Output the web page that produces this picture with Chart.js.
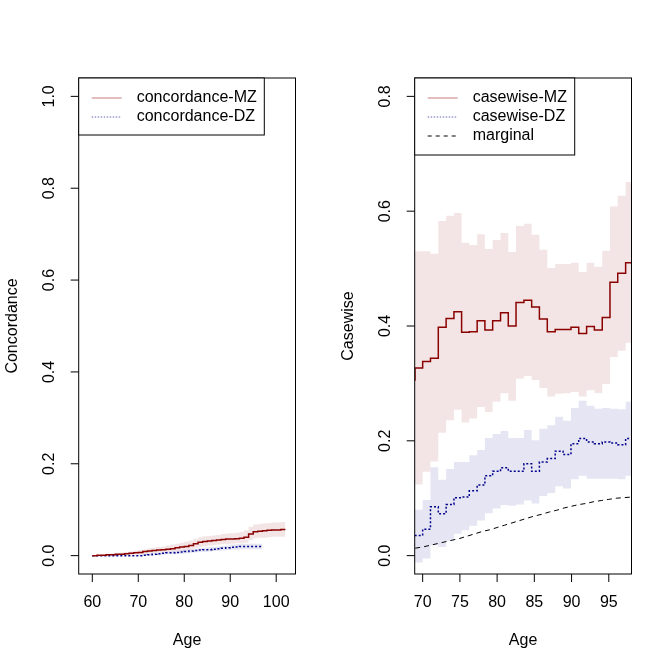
<!DOCTYPE html>
<html lang="en">
<head>
  <meta charset="UTF-8" />
  <title>Concordance and casewise by age</title>
  <script src="https://cdn.jsdelivr.net/npm/chart.js@4.4.1/dist/chart.umd.min.js"></script>
  <style>
    body { margin: 0; background: #fff; }
    .panel { position: absolute; top: 0; width: 336px; height: 672px; }
  </style>
</head>
<body>
  <div class="panel" style="left:0"><canvas id="leftChart" width="336" height="672"></canvas></div>
  <div class="panel" style="left:336px"><canvas id="rightChart" width="336" height="672"></canvas></div>

  <script>
    // ---- left panel: concordance ----
    const concAgesMZ = [60,61,62,63,64,65,66,67,68,69,70,71,72,73,74,75,76,77,78,79,80,
      81,82,83,84,85,86,87,88,89,90,91,92,93,94,95,96,97,98,99,100,101,102];
    const concMZ = [0.000,0.001,0.001,0.002,0.002,0.003,0.003,0.004,0.005,0.006,0.007,
      0.009,0.010,0.011,0.012,0.013,0.014,0.015,0.017,0.019,0.020,0.022,0.026,0.029,
      0.031,0.032,0.033,0.034,0.035,0.036,0.036,0.037,0.038,0.040,0.047,0.052,0.053,
      0.054,0.055,0.056,0.056,0.057,0.057];
    const concMZUpper = [0.000,0.002,0.003,0.004,0.005,0.006,0.007,0.008,0.009,0.011,
      0.012,0.014,0.016,0.017,0.019,0.020,0.022,0.024,0.026,0.028,0.030,0.033,0.037,
      0.040,0.042,0.043,0.044,0.045,0.047,0.048,0.049,0.050,0.052,0.055,0.063,0.068,
      0.069,0.070,0.071,0.072,0.072,0.073,0.074];
    const concMZLower = [0.000,0.000,0.000,0.001,0.001,0.001,0.001,0.002,0.002,0.003,
      0.003,0.004,0.005,0.006,0.007,0.008,0.008,0.009,0.010,0.011,0.012,0.013,0.016,
      0.019,0.021,0.022,0.023,0.024,0.025,0.025,0.026,0.027,0.027,0.028,0.034,0.038,
      0.039,0.039,0.040,0.041,0.041,0.041,0.041];

    const concAgesDZ = [60,61,62,63,64,65,66,67,68,69,70,71,72,73,74,75,76,77,78,79,80,
      81,82,83,84,85,86,87,88,89,90,91,92,93,94,95,96,97];
    const concDZ = [0,0,0,0,0,0,0,0,0,0,0,0.001,0.002,0.003,0.004,0.005,0.006,0.006,
      0.007,0.008,0.009,0.010,0.011,0.012,0.013,0.013,0.014,0.015,0.016,0.017,0.018,
      0.019,0.020,0.020,0.020,0.020,0.020,0.020];
    const concDZUpper = [0,0,0.001,0.001,0.001,0.001,0.001,0.002,0.002,0.002,0.003,
      0.004,0.005,0.006,0.007,0.008,0.009,0.010,0.011,0.012,0.013,0.014,0.015,0.016,
      0.017,0.018,0.019,0.020,0.021,0.022,0.024,0.025,0.026,0.026,0.026,0.026,0.026,0.026];
    const concDZLower = [0,0,0,0,0,0,0,0,0,0,0,0,0,0.001,0.001,0.002,0.003,0.003,0.004,
      0.004,0.005,0.006,0.007,0.008,0.008,0.009,0.010,0.010,0.011,0.012,0.013,0.013,
      0.014,0.014,0.014,0.014,0.014,0.014];

    const concXTicks = [60, 70, 80, 90, 100];
    const concYTicks = [0, 0.2, 0.4, 0.6, 0.8, 1.0];

    // ---- right panel: casewise ----
    const caseAges = [68.93,68.97,70.0,71.05,72.1,73.15,74.2,75.23,76.26,77.32,78.36,
      79.4,80.46,81.5,82.54,83.6,84.64,85.68,86.74,87.8,88.86,89.92,90.96,92.02,93.06,
      94.12,95.16,96.2,97.26,98.1];
    const caseMZ = [0.306,0.327,0.338,0.344,0.398,0.413,0.425,0.389,0.390,0.409,0.393,
      0.409,0.423,0.400,0.441,0.445,0.433,0.412,0.390,0.394,0.394,0.398,0.387,0.399,
      0.393,0.415,0.476,0.492,0.510,0.510];
    const caseMZUpper = [0.530,0.530,0.530,0.526,0.583,0.592,0.597,0.545,0.541,0.560,
      0.534,0.550,0.562,0.529,0.574,0.578,0.559,0.533,0.501,0.508,0.508,0.510,0.494,
      0.510,0.503,0.531,0.608,0.627,0.651,0.651];
    const caseMZLower = [0.124,0.124,0.146,0.164,0.214,0.236,0.254,0.232,0.239,0.259,
      0.250,0.268,0.283,0.270,0.308,0.313,0.306,0.292,0.277,0.282,0.283,0.285,0.277,
      0.288,0.283,0.299,0.346,0.357,0.371,0.371];
    const caseDZ = [0.035,0.035,0.046,0.085,0.073,0.089,0.101,0.102,0.113,0.123,0.139,
      0.147,0.153,0.147,0.147,0.160,0.147,0.163,0.169,0.182,0.176,0.195,0.204,0.198,
      0.195,0.198,0.196,0.193,0.204,0.204];
    const caseDZUpper = [0.080,0.080,0.097,0.154,0.132,0.151,0.163,0.163,0.175,0.184,
      0.205,0.212,0.217,0.205,0.205,0.219,0.201,0.221,0.227,0.242,0.235,0.257,0.270,
      0.261,0.256,0.257,0.256,0.255,0.268,0.268];
    const caseDZLower = [-0.012,-0.012,-0.005,0.018,0.015,0.026,0.038,0.044,0.052,0.061,
      0.074,0.082,0.088,0.087,0.089,0.096,0.091,0.104,0.109,0.121,0.117,0.133,0.139,
      0.134,0.134,0.134,0.134,0.133,0.139,0.139];

    const marginalAges = [69,70,71,72,73,74,75,76,77,78,79,80,81,82,83,84,85,86,87,88,
      89,90,91,92,93,94,95,96,97,98];
    const marginal = [0.013,0.015,0.018,0.021,0.024,0.027,0.030,0.034,0.038,0.042,0.045,
      0.049,0.053,0.057,0.061,0.065,0.069,0.072,0.076,0.079,0.083,0.086,0.089,0.091,
      0.094,0.096,0.098,0.100,0.101,0.102];

    const caseXTicks = [70, 75, 80, 85, 90, 95];
    const caseYTicks = [0, 0.2, 0.4, 0.6, 0.8];

    // colours
    const RED = "#8b0000";
    const BLUE = "#00008b";
    const RED_BAND = "rgba(139, 0, 0, 0.1)";
    const BLUE_BAND = "rgba(0, 0, 139, 0.1)";
    const FONT = '16px "Liberation Sans", Arial, Helvetica, sans-serif';

    function pts(xs, ys) {
      return xs.map((x, i) => ({ x: x, y: ys[i] }));
    }

    // "before" in Chart.js = hold the previous value, then jump (R type "s")
    function stepLine(data, color, dash, width) {
      return {
        data: data, stepped: "before", borderColor: color, borderWidth: width,
        borderDash: dash, pointRadius: 0, fill: false, tension: 0
      };
    }

    function bandEdge(data, fillTo, color) {
      return {
        data: data, stepped: "before", borderWidth: 0, borderColor: "rgba(0,0,0,0)",
        pointRadius: 0, fill: fillTo, backgroundColor: color
      };
    }

    // draws R style box, ticks, labels, axis titles and legend
    const rFrame = {
      id: "rFrame",
      afterDraw(chart) {
        const o = chart.options.plugins.rFrame;
        const { ctx, chartArea: a } = chart;
        const xs = chart.scales.x, ys = chart.scales.y;
        ctx.save();
        ctx.strokeStyle = "#000";
        ctx.fillStyle = "#000";
        ctx.lineWidth = 1;
        ctx.strokeRect(a.left, a.top, a.right - a.left, a.bottom - a.top);
        ctx.font = FONT;

        // x ticks
        ctx.textAlign = "center";
        ctx.textBaseline = "middle";
        o.xTicks.forEach((v) => {
          const px = xs.getPixelForValue(v);
          ctx.beginPath();
          ctx.moveTo(px, a.bottom);
          ctx.lineTo(px, a.bottom + 8);
          ctx.stroke();
          ctx.fillText(String(v), px, a.bottom + 29);
        });

        // y ticks (labels rotated like R's las = 0)
        o.yTicks.forEach((v) => {
          const py = ys.getPixelForValue(v);
          ctx.beginPath();
          ctx.moveTo(a.left - 8, py);
          ctx.lineTo(a.left, py);
          ctx.stroke();
          ctx.save();
          ctx.translate(a.left - 29, py);
          ctx.rotate(-Math.PI / 2);
          ctx.fillText(v.toFixed(1), 0, 0);
          ctx.restore();
        });

        // axis titles
        ctx.fillText(o.xTitle, (a.left + a.right) / 2, a.bottom + 67);
        ctx.save();
        ctx.translate(a.left - 66, (a.top + a.bottom) / 2);
        ctx.rotate(-Math.PI / 2);
        ctx.fillText(o.yTitle, 0, 0);
        ctx.restore();

        // legend
        const lg = o.legend;
        ctx.fillStyle = "#fff";
        ctx.fillRect(a.left, a.top, lg.width, lg.height);
        ctx.strokeRect(a.left, a.top, lg.width, lg.height);
        ctx.textAlign = "left";
        lg.items.forEach((it, i) => {
          const yy = a.top + 20 + i * 19;
          ctx.save();
          ctx.strokeStyle = it.color;
          ctx.setLineDash(it.dash);
          ctx.lineWidth = 1;
          ctx.beginPath();
          ctx.moveTo(a.left + 13, yy);
          ctx.lineTo(a.left + 43, yy);
          ctx.stroke();
          ctx.restore();
          ctx.fillStyle = "#000";
          ctx.fillText(it.label, a.left + 58, yy);
        });
        ctx.restore();
      }
    };

    function makePanel(id, cfg) {
      return new Chart(document.getElementById(id), {
        type: "line",
        data: { datasets: cfg.datasets },
        options: {
          responsive: false,
          animation: false,
          devicePixelRatio: 1,
          layout: { padding: { top: 78, right: 40.5, left: 0, bottom: 0 } },
          plugins: {
            legend: { display: false },
            tooltip: { enabled: false },
            rFrame: cfg.frame
          },
          scales: {
            x: {
              type: "linear", min: cfg.xMin, max: cfg.xMax,
              grid: { display: false }, border: { display: false },
              ticks: { display: false },
              afterFit: (s) => { s.height = 98; }
            },
            y: {
              type: "linear", min: cfg.yMin, max: cfg.yMax,
              grid: { display: false }, border: { display: false },
              ticks: { display: false },
              afterFit: (s) => { s.width = 78.7; }
            }
          }
        },
        plugins: [rFrame]
      });
    }

    const dotted = [2, 2];
    const dashed = [5, 4];

    makePanel("leftChart", {
      xMin: 57.04, xMax: 104.2, yMin: -0.04, yMax: 1.04,
      datasets: [
        stepLine(pts(concAgesMZ, concMZ), RED, [], 1.5),
        stepLine(pts(concAgesDZ, concDZ), BLUE, dotted, 1.5),
        bandEdge(pts(concAgesMZ, concMZUpper), false, RED_BAND),
        bandEdge(pts(concAgesMZ, concMZLower), "-1", RED_BAND),
        bandEdge(pts(concAgesDZ, concDZUpper), false, BLUE_BAND),
        bandEdge(pts(concAgesDZ, concDZLower), "-1", BLUE_BAND)
      ],
      frame: {
        xTicks: concXTicks, yTicks: concYTicks,
        xTitle: "Age", yTitle: "Concordance",
        legend: {
          width: 185.6, height: 57,
          items: [
            { label: "concordance-MZ", color: "rgba(139,0,0,0.5)", dash: [] },
            { label: "concordance-DZ", color: "rgba(0,0,139,0.6)", dash: [1.5, 1.5] }
          ]
        }
      }
    });

    makePanel("rightChart", {
      xMin: 68.93, xMax: 98.05, yMin: -0.032, yMax: 0.832,
      datasets: [
        stepLine(pts(caseAges, caseMZ), RED, [], 1.5),
        stepLine(pts(caseAges, caseDZ), BLUE, dotted, 1.5),
        {
          data: pts(marginalAges, marginal), borderColor: "#000", borderWidth: 1,
          borderDash: dashed, pointRadius: 0, fill: false, tension: 0
        },
        bandEdge(pts(caseAges, caseMZUpper), false, RED_BAND),
        bandEdge(pts(caseAges, caseMZLower), "-1", RED_BAND),
        bandEdge(pts(caseAges, caseDZUpper), false, BLUE_BAND),
        bandEdge(pts(caseAges, caseDZLower), "-1", BLUE_BAND)
      ],
      frame: {
        xTicks: caseXTicks, yTicks: caseYTicks,
        xTitle: "Age", yTitle: "Casewise",
        legend: {
          width: 160, height: 77,
          items: [
            { label: "casewise-MZ", color: "rgba(139,0,0,0.5)", dash: [] },
            { label: "casewise-DZ", color: "rgba(0,0,139,0.6)", dash: [1.5, 1.5] },
            { label: "marginal", color: "#000", dash: [4, 4] }
          ]
        }
      }
    });
  </script>
</body>
</html>
